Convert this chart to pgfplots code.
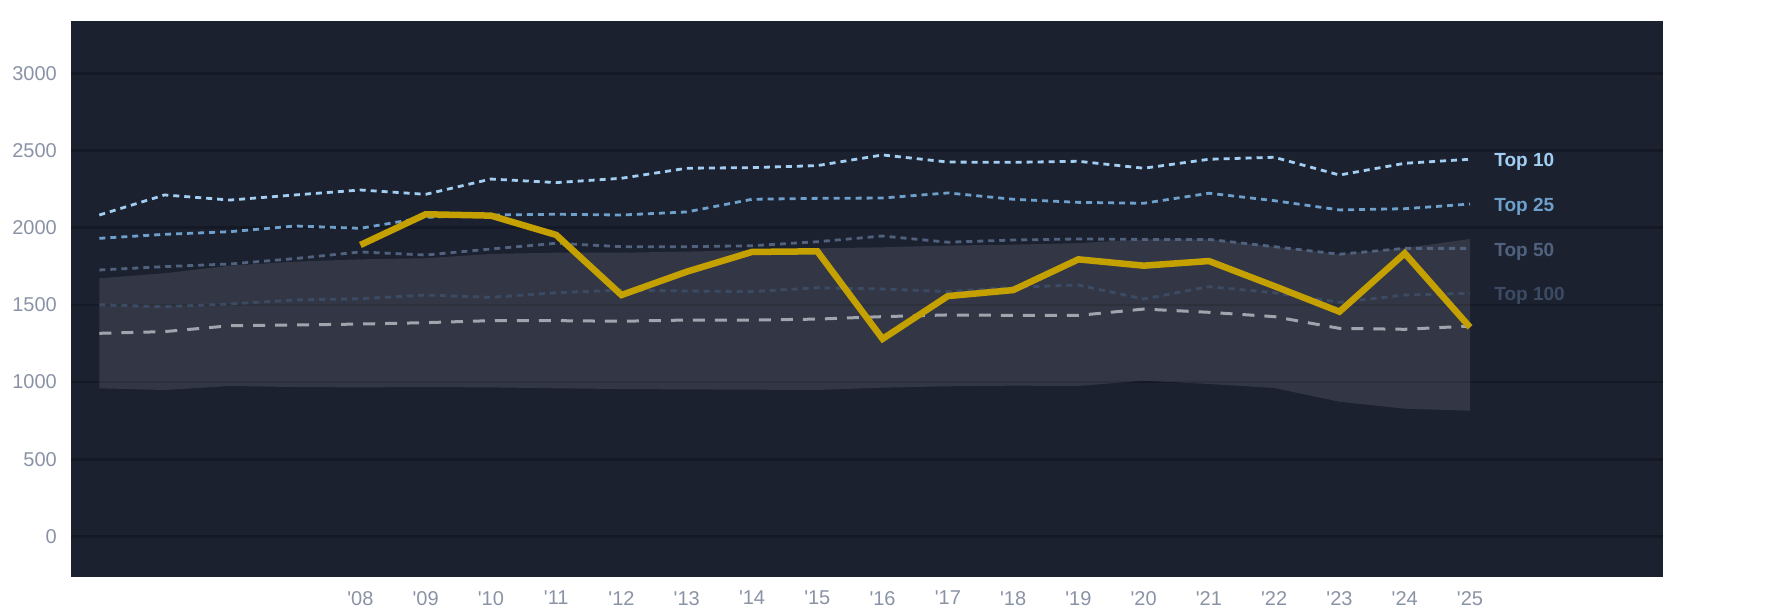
\documentclass[border=0pt]{standalone}
\usepackage{fontspec}
\setmainfont{Liberation Sans}
\usepackage{pgfplots}
\usepackage{pgfplotstable}
\pgfplotsset{compat=1.18}
\usepgfplotslibrary{fillbetween}
\definecolor{bgc}{RGB}{28,33,48}
\definecolor{gridc}{RGB}{21,25,37}
\definecolor{ctop10}{RGB}{162,206,242}
\definecolor{ctop25}{RGB}{110,160,204}
\definecolor{ctop50}{RGB}{80,98,126}
\definecolor{ctop100}{RGB}{60,75,100}
\definecolor{cmed}{RGB}{160,164,172}
\definecolor{cgold}{RGB}{196,160,0}
\definecolor{ctick}{RGB}{138,147,165}

\pgfplotstableread{
year top10 top25 top50 top100 med hi lo
2004 2082 1931 1726 1501 1316 1672 960
2005 2212 1957 1748 1488 1327 1705 949
2006 2179 1974 1765 1506 1365 1754 975
2007 2212 2011 1800 1532 1370 1780 968
2008 2244 1996 1843 1540 1376 1795 966
2009 2216 2067 1823 1564 1385 1802 968
2010 2315 2082 1862 1549 1398 1830 966
2011 2292 2087 1899 1579 1398 1838 960
2012 2320 2082 1877 1596 1394 1838 955
2013 2385 2102 1877 1590 1402 1845 953
2014 2389 2184 1883 1586 1402 1855 951
2015 2402 2190 1909 1611 1408 1866 949
2016 2471 2192 1946 1603 1424 1873 964
2017 2425 2225 1906 1586 1435 1884 973
2018 2423 2184 1920 1614 1432 1890 977
2019 2430 2164 1927 1629 1432 1900 975
2020 2385 2158 1924 1538 1473 1924 1009
2021 2443 2223 1924 1618 1452 1924 988
2022 2456 2175 1877 1579 1424 1877 962
2023 2341 2115 1828 1517 1348 1828 873
2024 2417 2123 1866 1564 1342 1868 828
2025 2443 2153 1866 1575 1363 1927 815
}\maintab

\pgfplotstableread{
year val
2008 1888
2009 2087
2010 2078
2011 1953
2012 1564
2013 1715
2014 1843
2015 1847
2016 1280
2017 1557
2018 1596
2019 1795
2020 1754
2021 1784
2022 1622
2023 1456
2024 1834
2025 1355
}\goldtab

\begin{document}
\begin{tikzpicture}
\path (-71pt,-37pt) rectangle (1714pt,577pt);
\begin{axis}[
  at={(0pt,0pt)}, anchor=south west,
  width=1592pt, height=556.4pt, scale only axis,
  xmin=2003.566, xmax=2027.957,
  ymin=-262, ymax=3341,
  axis background/.style={fill=bgc},
  axis line style={draw=none},
  tick style={draw=none},
  ymajorgrids,
  major grid style={color=gridc, line width=2.6pt},
  ytick={0,500,1000,1500,2000,2500,3000},
  yticklabels={0,500,1000,1500,2000,2500,3000},
  xtick={2008,2009,2010,2011,2012,2013,2014,2015,2016,2017,2018,2019,2020,2021,2022,2023,2024,2025},
  xticklabels={\textquotesingle 08,\textquotesingle 09,\textquotesingle 10,\textquotesingle 11,\textquotesingle 12,\textquotesingle 13,\textquotesingle 14,\textquotesingle 15,\textquotesingle 16,\textquotesingle 17,\textquotesingle 18,\textquotesingle 19,\textquotesingle 20,\textquotesingle 21,\textquotesingle 22,\textquotesingle 23,\textquotesingle 24,\textquotesingle 25},
  yticklabel style={font=\fontsize{20}{24}\selectfont, text=ctick, anchor=east, inner sep=0pt, xshift=-14pt},
  xticklabel style={font=\fontsize{20}{24}\selectfont, text=ctick, anchor=north, inner sep=0pt, yshift=-14pt},
  clip=false,
]
\addplot[name path=up, draw=none, forget plot] table[x=year, y=hi] {\maintab};
\addplot[name path=lo, draw=none, forget plot] table[x=year, y=lo] {\maintab};
\addplot[fill=white, fill opacity=0.1, draw=none] fill between[of=up and lo];

\addplot[ctop100, line width=2.8pt, dash pattern=on 6pt off 5pt] table[x=year, y=top100] {\maintab}
  node[pos=1, anchor=west, xshift=23pt, yshift=-3pt, inner sep=0pt, font=\bfseries\fontsize{19}{23}\selectfont, text=ctop100] {Top 100};
\addplot[ctop50, line width=2.8pt, dash pattern=on 6pt off 5pt] table[x=year, y=top50] {\maintab}
  node[pos=1, anchor=west, xshift=23pt, yshift=-3pt, inner sep=0pt, font=\bfseries\fontsize{19}{23}\selectfont, text=ctop50] {Top 50};
\addplot[ctop25, line width=2.8pt, dash pattern=on 6pt off 5pt] table[x=year, y=top25] {\maintab}
  node[pos=1, anchor=west, xshift=23pt, yshift=-3pt, inner sep=0pt, font=\bfseries\fontsize{19}{23}\selectfont, text=ctop25] {Top 25};
\addplot[ctop10, line width=2.8pt, dash pattern=on 6pt off 5pt] table[x=year, y=top10] {\maintab}
  node[pos=1, anchor=west, xshift=23pt, yshift=-3pt, inner sep=0pt, font=\bfseries\fontsize{19}{23}\selectfont, text=ctop10] {Top 10};
\addplot[cmed, line width=3pt, dash pattern=on 12pt off 10pt] table[x=year, y=med] {\maintab};
\addplot[cgold, line width=6.5pt, line join=miter] table[x=year, y=val] {\goldtab};
\end{axis}
\end{tikzpicture}
\end{document}
